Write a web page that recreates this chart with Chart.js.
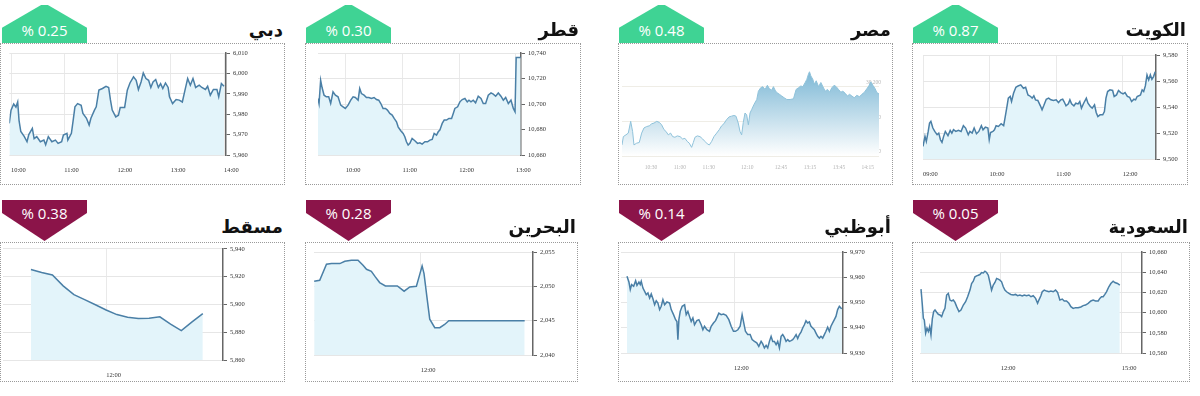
<!DOCTYPE html>
<html>
<head>
<meta charset="utf-8">
<script src="https://cdn.jsdelivr.net/npm/chart.js@4.4.1/dist/chart.umd.min.js"></script>
<style>
  body { margin: 0; background: #fff; width: 1200px; height: 396px; position: relative; overflow: hidden; }
  .box { position: absolute; border: 1px dotted #9a9a9a; box-sizing: border-box; pointer-events: none; }
  canvas { position: absolute; }
  .badge { position: absolute; width: 85px; color: #fff; font-family: 'Open Sans', sans-serif; font-size: 15px; }
  .badge span { position: absolute; left: 0; right: 0; text-align: center; line-height: 20px; direction: ltr; }
  .badge.up { height: 38px; top: 5px; background: #3fd394; clip-path: polygon(46% 0, 54% 0, 100% 60%, 100% 100%, 0 100%, 0 60%); }
  .badge.up span { top: 15px; }
  .badge.down { height: 41px; top: 200px; background: #8b1449; clip-path: polygon(0 0, 100% 0, 100% 32%, 50% 100%, 0 32%); }
  .badge.down span { top: 3px; }
  .title { position: absolute; font-family: 'DejaVu Sans', sans-serif; font-weight: bold; font-size: 18px; line-height: 20px; direction: rtl; color: #111; }
</style>
</head>
<body>
<script>
// ---- data (times are minutes since midnight) ----
const dubaiTimes = [598, 600, 603, 605.5, 607.5, 609, 611, 615, 618, 620, 624, 626, 629, 633, 637, 639, 642, 646, 650, 653,
  657, 659, 663, 664, 668, 670, 672, 675, 679, 681, 685, 688, 690, 694, 696, 699, 703, 707, 710, 712,
  714, 718, 721, 723, 728, 731, 734, 738, 741, 743.5, 746.5, 749, 752, 755, 757.5, 760, 763, 766, 768.5, 771,
  774, 777, 778.5, 782, 786, 789.5, 793, 796, 799, 802, 805, 808, 812, 815, 819, 821.5, 824.5, 828, 832, 834, 837, 840];
const dubaiValues = [5975.5, 5982, 5985, 5983.5, 5986, 5977, 5971.5, 5969, 5966.5, 5970, 5973, 5968, 5969, 5966.5, 5967.3, 5965, 5969, 5966.5, 5967.3, 5965.7,
  5966.5, 5969.8, 5970.6, 5967.3, 5970.6, 5977, 5983.6, 5985.2, 5984.4, 5980.4, 5978, 5974.7, 5978, 5982, 5983.6, 5991.8, 5992.6, 5993.7, 5993.1, 5987,
  5982, 5978.7, 5979.5, 5983.3, 5983.3, 5991.8, 5995.3, 5998.3, 5996.6, 5992.1, 5995.8, 6000.2, 5997.5, 5996.6, 5993.1, 5995.8, 5997, 5993.1, 5995, 5992.6,
  5995.3, 5993.1, 5988.5, 5985.2, 5987.2, 5986.9, 5986, 5991.8, 5997.5, 5994.2, 5997.5, 5993.1, 5994.2, 5993.1, 5992.1, 5993.7, 5989.3, 5992.1, 5992.1, 5988.5, 5995, 5993.7];
const dubaiXTicks = ['10:00', '11:00', '12:00', '13:00', '14:00'];
const dubaiYTicks = [5960, 5970, 5980, 5990, 6000, 6010];

const qatarTimes = [570.7, 571.8, 573.5, 575, 577.1, 579.5, 582, 584.1, 586.6, 589.1, 591.9, 594.7, 597.2, 599.6, 602.5, 605.3, 607.8, 610.2, 613.1, 614.8,
  616.6, 619.4, 621.9, 624.4, 627.2, 630, 632.5, 634.9, 637.1, 639.5, 642, 644.1, 646.6, 649.1, 651.2, 653.7, 655.4, 658.2, 660.7, 662.5,
  664.2, 666, 667.8, 670.2, 673.1, 675.9, 678.4, 680.8, 683.7, 686.5, 689, 691.4, 693.5, 696, 697.8, 699.5, 702, 704.1, 706.6, 709.1,
  711.9, 713.7, 715.4, 718.3, 720.7, 723.2, 726, 728.5, 730.3, 732.4, 734.8, 737.3, 740.1, 743, 745.4, 747.9, 750.7, 753.6, 756, 758.5,
  761.3, 764.1, 766.6, 769.1, 771.9, 774.7, 777.2, 779, 780.2, 785];
const qatarValues = [10704.3, 10700.4, 10718.6, 10712.9, 10706.9, 10705.6, 10705.6, 10700.4, 10709.5, 10706.9, 10705.6, 10699.1, 10697.8, 10696.5, 10699.1, 10703, 10705.6, 10705.1, 10703, 10712.1,
  10708.2, 10706.9, 10705.1, 10705.1, 10704.3, 10705.1, 10703.5, 10703, 10700.4, 10696.5, 10696.5, 10695.2, 10692.6, 10691.3, 10688.7, 10686.1, 10682.1, 10679, 10676.9, 10674.3,
  10670.4, 10667.8, 10669.1, 10673, 10671.2, 10669.1, 10669.6, 10668.6, 10670.4, 10670.4, 10671.7, 10672.2, 10676.9, 10675.6, 10678.2, 10679.5, 10684.8, 10687.4, 10687.4, 10688.7,
  10688.7, 10692.6, 10696.5, 10697.8, 10701.7, 10703.5, 10704.3, 10701.7, 10703, 10701.7, 10703, 10700.9, 10706.1, 10704.3, 10700.4, 10700.4, 10706.9, 10708.7, 10707.7, 10706.1,
  10708.7, 10706.1, 10703, 10705.1, 10700.4, 10703, 10696.5, 10693.9, 10736.4, 10736.4];
const qatarXTicks = ['10:00', '11:00', '12:00', '13:00'];
const qatarYTicks = [10660, 10680, 10700, 10720, 10740];

const egyptTimes = [600, 601.4, 604.1, 606.5, 609, 611, 612.4, 615.2, 617.9, 620.4, 622.8, 625.6, 628.3, 630.8, 633.2, 636, 638.7, 641.1, 643.6, 645.6,
  648, 650.4, 652.5, 654.9, 657.3, 660.2, 662.9, 665.3, 667.7, 669.8, 672.2, 674, 675.7, 678.1, 680.9, 683.7, 686.1, 688.5, 690.6, 693,
  695.4, 698.2, 700.9, 703.3, 705.7, 708.5, 711.2, 713.7, 716.1, 718.2, 720.6, 722.4, 724.1, 725.8, 727.6, 729.3, 731.1, 732.8, 734.5, 737,
  739.8, 741.5, 743.9, 746, 748.4, 750.8, 752.9, 755.3, 757.1, 758.8, 760.5, 763.3, 765.7, 768.2, 771, 774.4, 777.9, 780.6, 783.1, 785.5,
  787.6, 790, 791.7, 793.4, 794.5, 795.9, 798, 799.4, 801.5, 803.9, 806.3, 808.4, 810.8, 813.2, 815.3, 817.7, 820.1, 822.2, 824.6, 827,
  829.1, 831.5, 833.9, 836, 838.5, 840.9, 843.6, 846.4, 848.8, 851.2, 854, 856, 858.1, 860.2, 862.6, 864.3, 867.1];
const egyptValues = [30032, 30056, 30061, 30066, 30100, 30071, 30032, 30037, 30039, 30066, 30081, 30085, 30087, 30093, 30095, 30100, 30097, 30090, 30076, 30071,
  30061, 30066, 30056, 30054, 30058, 30056, 30049, 30051, 30042, 30037, 30025, 30039, 30054, 30058, 30056, 30049, 30042, 30035, 30032, 30042,
  30056, 30066, 30076, 30087, 30093, 30105, 30113, 30115, 30117, 30115, 30095, 30071, 30061, 30097, 30124, 30119, 30090, 30124, 30134, 30149,
  30163, 30187, 30197, 30200, 30192, 30204, 30194, 30190, 30200, 30190, 30183, 30178, 30173, 30168, 30163, 30163, 30165, 30192, 30197, 30202,
  30200, 30212, 30221, 30236, 30243, 30231, 30221, 30207, 30217, 30200, 30212, 30200, 30187, 30192, 30184, 30197, 30204, 30200, 30192, 30184,
  30187, 30181, 30173, 30178, 30173, 30168, 30175, 30171, 30178, 30183, 30194, 30202, 30214, 30204, 30194, 30183, 30178];
const egyptXTicks = ['10:30', '11:00', '11:30', '12:10', '12:45', '13:15', '13:45', '14:15'];
const egyptYTicks = [30000, 30100, 30200];

const kuwaitTimes = [540, 541.8, 543, 544.7, 545.9, 547.1, 548.9, 550.6, 552.7, 554.2, 555.7, 557.1, 558.6, 560.1, 562.5, 564.5, 566, 567.5, 569.6, 571.9,
  574.3, 576.4, 578.4, 580.8, 582.3, 584.3, 586.1, 588.2, 590.3, 592.6, 594.1, 596.2, 598.5, 599.7, 600.9, 603, 604.4, 605.9, 608, 610.4,
  612.7, 613.9, 615.7, 616.9, 618.6, 619.8, 621.6, 623.7, 625.7, 628.1, 630.5, 632.5, 634.6, 637, 638.4, 639.9, 641.4, 643.5, 645.8, 647.3,
  648.8, 651.1, 653.2, 655.3, 657.6, 660, 662.1, 664.2, 665.9, 667.1, 668.9, 671, 672.4, 673.9, 676, 677.7, 679.8, 681.3, 682.8, 684.8,
  687.2, 688.7, 690.8, 692.5, 694.6, 696.1, 697.6, 699.6, 702, 703.5, 704.9, 706.4, 708.5, 710.9, 712.3, 714.4, 716.2, 718.2, 720.3, 722.1,
  724.2, 726.2, 728, 730.1, 731.6, 733, 734.5, 736, 737.5, 738.9, 740.4, 741.9, 743.4, 744.9, 746.3, 747.8, 749.3];
const kuwaitValues = [9509.7, 9517.4, 9513.5, 9521.2, 9527.6, 9528.9, 9523.8, 9521.2, 9518.7, 9519.9, 9514.8, 9512.8, 9517.4, 9521.2, 9517.9, 9522, 9519.9, 9522.5, 9521.2, 9522,
  9521.2, 9525.6, 9523.8, 9518.7, 9521.2, 9519.9, 9523.8, 9519.4, 9521.2, 9525.6, 9522.5, 9524.5, 9523.8, 9514.8, 9520.4, 9521.2, 9522.5, 9525.6, 9525, 9527.1,
  9525.6, 9531.4, 9540.4, 9546.8, 9548.1, 9544.2, 9550.6, 9555.2, 9556.2, 9557, 9554.4, 9555.2, 9549.3, 9548.1, 9546.8, 9548.6, 9545.5, 9545, 9540.9, 9537.8,
  9540.9, 9546, 9546.8, 9545.5, 9545, 9545.5, 9543.4, 9545.5, 9546, 9544.2, 9540.9, 9542.4, 9545.5, 9542.4, 9540.9, 9542.9, 9542.4, 9544.2, 9539.1, 9542.9,
  9546.8, 9542.9, 9540.4, 9539.1, 9541.7, 9535.8, 9532.7, 9534, 9534, 9536.5, 9546.8, 9551.9, 9553.2, 9552.7, 9548.1, 9549.3, 9552.7, 9551.1, 9550.1, 9551.1,
  9548.1, 9547.5, 9544.2, 9546, 9545.5, 9548.1, 9548.6, 9549.3, 9553.2, 9551.9, 9556.2, 9564.7, 9560.8, 9564.7, 9561.3, 9563.4, 9567.2];
const kuwaitXTicks = ['09:00', '10:00', '11:00', '12:00'];
const kuwaitYTicks = [9500, 9520, 9540, 9560, 9580];

const muscatTimes = [650, 660, 670, 680, 690, 700, 710, 720, 730, 740, 750, 760, 770, 780, 790, 800, 810];
const muscatValues = [5925.2, 5923, 5921.2, 5913.4, 5907.1, 5903.5, 5899.8, 5896, 5892.7, 5890.8, 5889.9, 5890.1, 5891.1, 5885.9, 5881.2, 5887.5, 5893.4];
const muscatXTicks = ['12:00'];
const muscatYTicks = [5860, 5880, 5900, 5920, 5940];

const bahrainTimes = [658.5, 661.7, 665.6, 668.5, 673.3, 676.2, 680, 683.8, 686.7, 688.7, 691.5, 693.8, 696.3, 699.6, 703.1, 706.5, 710.4, 713.7, 717.5, 719.4,
  720.8, 721.9, 723.8, 725.2, 728.1, 731, 733.8, 736.2, 739.6, 780];
const bahrainValues = [2050.74, 2050.89, 2053.21, 2053.31, 2053.31, 2053.64, 2053.79, 2053.79, 2053.06, 2052.48, 2052.19, 2051.37, 2050.55, 2050.06, 2050.06, 2050.06, 2049.29, 2049.92, 2050.01, 2051.71,
  2052.97, 2051.85, 2047.98, 2045.22, 2043.97, 2043.97, 2044.45, 2044.98, 2044.98, 2044.98];
const bahrainXTicks = ['12:00'];
const bahrainYTicks = [2040, 2045, 2050, 2055];

const abuDhabiTimes = [600, 602.2, 603.7, 605.2, 607.5, 609.7, 611.2, 613.4, 614.9, 616, 617.9, 619.8, 621.6, 623.5, 625.4, 627.2, 629.1, 631, 632.8, 634.7,
  636.6, 638.4, 640.3, 642.2, 644.8, 647.8, 649.6, 652.2, 654.5, 656, 657.1, 658.2, 659.7, 661.9, 664.6, 666.4, 668.3, 670.1, 672, 673.9,
  675.7, 678.4, 680.6, 683.2, 685.1, 686.9, 689.6, 692.5, 694.4, 697, 699.3, 700.7, 703, 705.6, 708.2, 711.2, 714.2, 716.8, 719.4, 721.6,
  724.3, 726.9, 729.1, 730.6, 732.8, 735.4, 738.1, 740.3, 742.9, 745.5, 747.8, 750.4, 752.2, 754.1, 756, 757.8, 759.7, 761.6, 763.4, 765.3,
  767.2, 769, 770.9, 772.8, 774.6, 776.5, 778.4, 780.2, 782.1, 784, 785.8, 787.7, 789.6, 791.4, 793.3, 795.1, 797, 798.9, 800.7, 802.6,
  804.5, 806.3, 808.2, 810.1, 811.9, 813.8, 815.7, 817.5, 819.4, 821.3, 823.1, 825, 826.9, 828.7, 830.6, 832.5, 834.3, 836.2, 838.1, 839.9, 841];
const abuDhabiValues = [9960.4, 9958.1, 9955.1, 9957.1, 9956.4, 9958.6, 9956.8, 9958.1, 9957.1, 9958.4, 9955.7, 9954.4, 9953.1, 9953.8, 9951.8, 9953.4, 9951.5, 9949.1, 9950.7, 9949.8,
  9947.2, 9948.5, 9951.1, 9949.1, 9950.2, 9949.8, 9947.2, 9945.2, 9943.2, 9942.5, 9935.3, 9943.2, 9946.5, 9948.5, 9949.1, 9945.2, 9946.5, 9944.5, 9942.5, 9943.9,
  9941.2, 9942.8, 9943.2, 9941.2, 9939.2, 9940.6, 9939.2, 9938.6, 9940.6, 9941.9, 9942.8, 9943.9, 9945.8, 9945.2, 9945.4, 9944.9, 9943.2, 9940.6, 9938.6, 9938.6,
  9939.2, 9940.6, 9945.2, 9942.5, 9938.6, 9937.3, 9937.3, 9935.3, 9934.6, 9934, 9932.6, 9934.6, 9933.6, 9932, 9933, 9932, 9934.6, 9936.6, 9934.6, 9934.6,
  9933.3, 9934.6, 9932, 9936.6, 9937.3, 9936.2, 9934.6, 9935.3, 9934.6, 9934.9, 9935.3, 9936.2, 9937.3, 9935.7, 9937.3, 9938.3, 9939.9, 9941.2, 9942.8, 9941.9,
  9942.3, 9940.6, 9939.9, 9939.2, 9937.9, 9936.6, 9935.9, 9936.6, 9935.9, 9937.3, 9938.6, 9940.2, 9938.6, 9940.6, 9941.9, 9943.2, 9944.5, 9947.2, 9948.5, 9947.8, 9947.6];
const abuDhabiXTicks = ['12:00'];
const abuDhabiYTicks = [9930, 9940, 9950, 9960, 9970];

const saudiTimes = [601.5, 603.5, 605, 606.4, 608.4, 610.4, 612.4, 614.4, 616.3, 618.3, 620.3, 622.3, 624.8, 627.2, 629.7, 632.2, 634.7, 637.1, 639.6, 642.1,
  644.6, 647, 649.5, 652, 654.5, 657.9, 660.9, 664.4, 667.8, 670.8, 674.3, 676.7, 679.2, 681.7, 684.2, 686.6, 689.1, 691.6, 694.1, 696.5,
  699, 701.5, 704, 706.4, 708.9, 711.4, 713.9, 716.3, 718.8, 721.3, 723.8, 726.2, 728.7, 732.2, 735.1, 738.6, 742.1, 745, 748.5, 752,
  755, 758.4, 761.9, 764.9, 768.3, 771.8, 774.8, 776.7, 779.7, 781.7, 784.7, 788.1, 791.6, 794.6, 798, 801.5, 804.5, 807.9, 811.4, 814.4,
  817.8, 821.3, 824.3, 827.7, 831.2, 835.1, 839.1, 842.6, 846, 850, 854, 857.4, 860.9, 864.9, 867.3, 869.8, 872.3, 874.8, 877.2, 880.7,
  883.7, 887.1, 889.6, 893.6, 897];
const saudiValues = [10623.3, 10607.5, 10594.4, 10592.8, 10579.6, 10584.6, 10581.3, 10586.2, 10578, 10593.7, 10601, 10602.6, 10600.3, 10598.3, 10597.7, 10596, 10601, 10604.2, 10617.4, 10619,
  10612.4, 10611.5, 10612.4, 10610.1, 10605.9, 10601, 10602.6, 10607.5, 10610.8, 10615.7, 10622.3, 10628.8, 10631.1, 10635.4, 10636.4, 10637, 10637.7, 10639.7, 10639.3, 10641,
  10639.7, 10637, 10629.8, 10622.3, 10627.2, 10629.8, 10633.8, 10633.1, 10632.1, 10630.5, 10625.6, 10622.3, 10620.6, 10619, 10618, 10617.4, 10618, 10616.7, 10617.4, 10616.4,
  10617.4, 10616.7, 10617.4, 10615.7, 10616.7, 10614.1, 10609.2, 10612.4, 10616.7, 10620.6, 10622.3, 10621.3, 10620.6, 10621.3, 10620.6, 10622.3, 10620, 10612.4, 10613.4, 10611.5,
  10611.5, 10609.2, 10605.9, 10604.2, 10604.9, 10604.9, 10605.6, 10606.9, 10607.5, 10609.2, 10611.5, 10612.4, 10611.5, 10611.5, 10614.1, 10615.7, 10615.7, 10618, 10620.6, 10625.6,
  10628.8, 10631.1, 10629.8, 10628.8, 10627.2];
const saudiXTicks = ['12:00', '15:00'];
const saudiYTicks = [10560, 10580, 10600, 10620, 10640, 10660];

// ---- helpers ----
function toMinutes(label) {
  const parts = label.split(':');
  return parseInt(parts[0], 10) * 60 + parseInt(parts[1], 10);
}

function addBadge(left, up, text) {
  const b = document.createElement('div');
  b.className = 'badge ' + (up ? 'up' : 'down');
  b.style.left = left + 'px';
  b.innerHTML = '<span>' + text + '</span>';
  document.body.appendChild(b);
}

function addTitle(right, top, text) {
  const t = document.createElement('div');
  t.className = 'title';
  t.style.right = (1200 - right) + 'px';
  t.style.top = top + 'px';
  t.textContent = text;
  document.body.appendChild(t);
}

function makeChart(cfg) {
  const box = cfg.box;    // [left, top, width, height]
  const plot = cfg.plot;  // [left, top, right, bottom]
  const canvas = document.createElement('canvas');
  canvas.width = box[2];
  canvas.height = box[3];
  canvas.style.left = box[0] + 'px';
  canvas.style.top = box[1] + 'px';
  document.body.appendChild(canvas);

  const frame = document.createElement('div');
  frame.className = 'box';
  frame.style.left = box[0] + 'px';
  frame.style.top = box[1] + 'px';
  frame.style.width = box[2] + 'px';
  frame.style.height = box[3] + 'px';
  document.body.appendChild(frame);

  const yW = box[0] + box[2] - plot[2];
  const xH = box[1] + box[3] - plot[3];
  const xTickValues = cfg.xTicks.map(toMinutes);
  const soft = cfg.soft; // Egypt panel style

  const fillColor = soft ? function(ctx) {
    const area = ctx.chart.chartArea;
    if (!area) return 'rgba(0,0,0,0)';
    const g = ctx.chart.ctx.createLinearGradient(0, area.top + 15, 0, area.bottom);
    g.addColorStop(0, '#76b4d3');
    g.addColorStop(1, '#ffffff');
    return g;
  } : '#e3f4fa';

  new Chart(canvas, {
    type: 'line',
    data: {
      datasets: [{
        data: cfg.times.map((t, i) => ({ x: t, y: cfg.values[i] })),
        borderColor: soft ? '#8fc2da' : '#4a7fa6',
        borderWidth: soft ? 1 : 1.5,
        backgroundColor: fillColor,
        fill: 'start',
        pointRadius: 0,
        tension: 0
      }]
    },
    options: {
      responsive: false,
      animation: false,
      events: [],
      layout: { padding: { left: plot[0] - box[0], top: plot[1] - box[1], right: 0, bottom: 0 } },
      plugins: { legend: { display: false }, tooltip: { enabled: false } },
      scales: {
        x: {
          type: 'linear',
          min: cfg.xMin,
          max: cfg.xMax,
          afterBuildTicks: (scale) => { scale.ticks = xTickValues.map(v => ({ value: v })); },
          afterFit: (scale) => { scale.height = xH; },
          border: { display: false },
          grid: { display: !soft, color: '#e9e9e9', drawTicks: false },
          ticks: {
            autoSkip: false,
            maxRotation: 0,
            align: soft ? 'center' : 'start',
            padding: soft ? 8 : 11,
            color: soft ? '#b5b5b5' : '#333',
            font: { family: 'Liberation Serif', size: soft ? 5.5 : 6.5 },
            callback: (v) => cfg.xTicks[xTickValues.indexOf(v)]
          }
        },
        y: {
          position: 'right',
          min: cfg.yTicks[0],
          max: cfg.yMax || cfg.yTicks[cfg.yTicks.length - 1],
          afterBuildTicks: (scale) => { scale.ticks = cfg.yTicks.map(v => ({ value: v })); },
          afterFit: (scale) => { scale.width = yW; },
          border: { display: !soft, color: '#666', width: 1.5 },
          grid: { color: soft ? '#efede6' : '#e6e6e6', drawTicks: !soft, tickLength: 4, tickColor: '#666' },
          ticks: {
            mirror: !!soft,
            padding: soft ? 2 : 3,
            labelOffset: soft ? -4 : 0,
            color: soft ? '#b5b5b5' : '#333',
            font: { family: 'Liberation Serif', size: soft ? 5.5 : 6.5 },
            callback: (v) => v.toLocaleString('en-US')
          }
        }
      }
    }
  });
}

// ---- top row ----
makeChart({ box: [0, 43, 285, 142], plot: [5, 53, 226, 155], times: dubaiTimes, values: dubaiValues,
  xTicks: dubaiXTicks, yTicks: dubaiYTicks, xMin: 598.1, xMax: 842.2 });
makeChart({ box: [305, 43, 276, 142], plot: [318, 53, 521, 155], times: qatarTimes, values: qatarValues,
  xTicks: qatarXTicks, yTicks: qatarYTicks, xMin: 570.7, xMax: 785.3 });
makeChart({ box: [618, 43, 275, 142], plot: [622, 52, 879, 156], times: egyptTimes, values: egyptValues,
  xTicks: egyptXTicks, yTicks: egyptYTicks, yMax: 30300, xMin: 600, xMax: 866.6, soft: true });
makeChart({ box: [912, 43, 276, 142], plot: [919, 55, 1156, 159], times: kuwaitTimes, values: kuwaitValues,
  xTicks: kuwaitXTicks, yTicks: kuwaitYTicks, xMin: 540, xMax: 750 });

// ---- bottom row ----
makeChart({ box: [0, 242, 285, 140], plot: [3, 247, 223, 360], times: muscatTimes, values: muscatValues,
  xTicks: muscatXTicks, yTicks: muscatYTicks, xMin: 624, xMax: 828.8 });
makeChart({ box: [305, 242, 273, 140], plot: [314, 252, 533, 355], times: bahrainTimes, values: bahrainValues,
  xTicks: bahrainXTicks, yTicks: bahrainYTicks, xMin: 658.4, xMax: 784.8 });
makeChart({ box: [618, 242, 275, 140], plot: [621, 252, 843, 353], times: abuDhabiTimes, values: abuDhabiValues,
  xTicks: abuDhabiXTicks, yTicks: abuDhabiYTicks, xMin: 593.3, xMax: 842.2 });
makeChart({ box: [912, 242, 278, 140], plot: [920, 252, 1142, 353], times: saudiTimes, values: saudiValues,
  xTicks: saudiXTicks, yTicks: saudiYTicks, xMin: 600, xMax: 930 });

// ---- badges and titles ----
addBadge(2, true, '% 0.25');
addBadge(306, true, '% 0.30');
addBadge(619, true, '% 0.48');
addBadge(913, true, '% 0.87');
addBadge(2, false, '% 0.38');
addBadge(306, false, '% 0.28');
addBadge(619, false, '% 0.14');
addBadge(913, false, '% 0.05');

addTitle(283, 20, 'دبي');
addTitle(579, 20, 'قطر');
addTitle(891, 20, 'مصر');
addTitle(1186, 20, 'الكويت');
addTitle(283, 217, 'مسقط');
addTitle(576, 217, 'البحرين');
addTitle(891, 217, 'أبوظبي');
addTitle(1188, 217, 'السعودية');
</script>
</body>
</html>
